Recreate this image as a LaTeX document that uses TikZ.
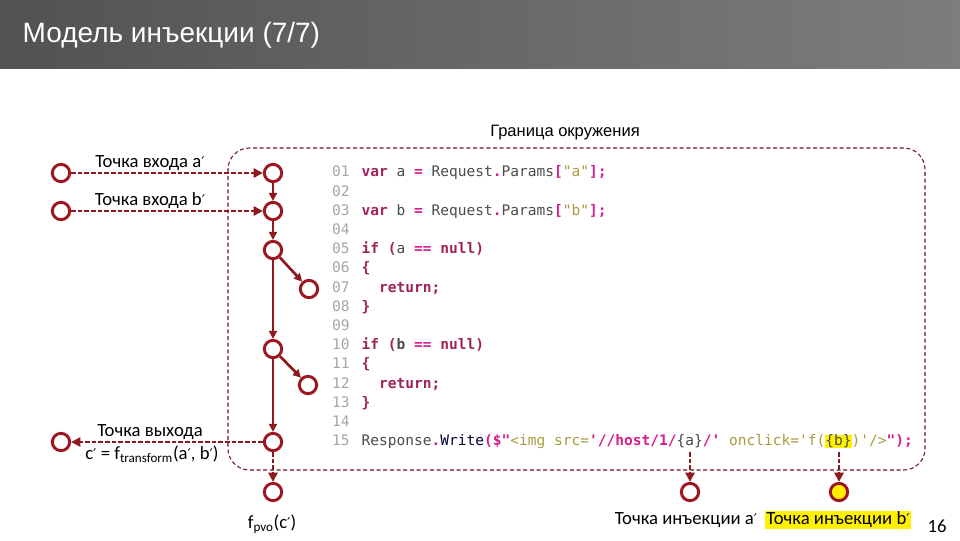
\documentclass[tikz,border=0pt]{standalone}
\usepackage{xcolor}
\usepackage{fontspec}
\setmainfont{Carlito}
\newfontfamily\arialfont{Liberation Sans}
\newfontfamily\symfont{DejaVu Sans}
\setmonofont{DejaVu Sans Mono}
\usepackage{tikz}
\usetikzlibrary{arrows.meta, positioning, calc}

\definecolor{ptred}{RGB}{158,22,32}
\definecolor{edgered}{RGB}{140,26,30}
\definecolor{borderred}{RGB}{115,20,30}
\definecolor{kwcol}{RGB}{160,35,90}
\definecolor{opcol}{RGB}{215,30,140}
\definecolor{idcol}{RGB}{75,75,75}
\definecolor{strcol}{RGB}{165,155,60}
\definecolor{numcol}{RGB}{165,165,165}
\definecolor{hlyellow}{RGB}{255,240,0}

% code colouring
\newcommand{\kw}[1]{\textcolor{kwcol}{\bfseries #1}}
\newcommand{\op}[1]{\textcolor{opcol}{\bfseries #1}}
\newcommand{\str}[1]{\textcolor{strcol}{#1}}
% prime
\newcommand{\prm}{{\symfont\fontsize{11}{13}\selectfont ′}}

\begin{document}
\begin{tikzpicture}[
  x=0.75pt, y=-0.75pt,
  pt/.style={circle, draw=ptred, line width=2.2pt, fill=white, minimum size=13pt, inner sep=0pt},
  flow/.style={draw=edgered, line width=2pt, -{Triangle[length=6pt,width=6pt]}},
  dflow/.style={draw=edgered, line width=1.6pt, dash pattern=on 3.5pt off 1.5pt, -{Triangle[length=7pt,width=7pt]}},
  lbl/.style={font=\fontsize{14}{16}\selectfont, inner sep=1pt},
  lnum/.style={anchor=east, font=\ttfamily\fontsize{10.9}{13}\selectfont, text=numcol, inner sep=0pt, text height=8pt, text depth=2.5pt},
  code/.style={anchor=west, font=\ttfamily\fontsize{10.9}{13}\selectfont, text=idcol, inner sep=0pt, text height=8pt, text depth=2.5pt}
]
  \useasboundingbox (0,0) rectangle (960,540);

  % header
  \shade[left color={rgb,255:red,82;green,82;blue,82}, right color={rgb,255:red,125;green,125;blue,125}] (0,0) rectangle (960,68);
  \node[anchor=west, text=white, font=\arialfont\fontsize{21}{24}\selectfont] (title) at (18,35) {Модель инъекции (7/7)};

  % boundary
  \draw[borderred, line width=0.8pt, dash pattern=on 3pt off 2pt, rounded corners=16] (228,148) rectangle (925,470);
  \node[font=\arialfont\fontsize{12.4}{14}\selectfont] (border) at (565,133) {Граница окружения};

  % code
  \foreach \n [count=\i] in {01,02,03,04,05,06,07,08,09,10,11,12,13,14,15}
    \node[lnum] (ln\n) at (350,154+19.2*\i) {\n};
  \node[code, right=8.5pt of ln01] (c01) {\kw{var} a \op{=} Request\op{.}Params\op{[}\str{"a"}\op{];}};
  \node[code, right=8.5pt of ln03] (c03) {\kw{var} b \op{=} Request\op{.}Params\op{[}\str{"b"}\op{];}};
  \node[code, right=8.5pt of ln05] (c05) {\kw{if} \kw{(}a \op{==} \kw{null)}};
  \node[code, right=8.5pt of ln06] (c06) {\kw{\{}};
  \node[code, right=8.5pt of ln07] (c07) {\ \ \kw{return;}};
  \node[code, right=8.5pt of ln08] (c08) {\kw{\}}};
  \node[code, right=8.5pt of ln10] (c10) {\kw{if} \kw{(}\textbf{b} \op{==} \kw{null)}};
  \node[code, right=8.5pt of ln11] (c11) {\kw{\{}};
  \node[code, right=8.5pt of ln12] (c12) {\ \ \kw{return;}};
  \node[code, right=8.5pt of ln13] (c13) {\kw{\}}};
  \node[code, right=8.5pt of ln15] (c15) {Response\op{.}\textcolor{black!80!blue}{Write}\op{(\$"}\str{<img}\ \str{src=}\op{'//host/1/}\{a\}\op{/'}\ \str{onclick='f(}{\setlength\fboxsep{0pt}\colorbox{hlyellow}{\{b\}}}\str{)'/>}\op{");}};

  % entry / exit points
  \node[pt] (ina) at (61,173) {};
  \node[pt] (inb) at (61,211) {};
  \node[pt] (outc) at (61,442) {};

  % flow graph
  \node[pt] (n1) at (273,173) {};
  \node[pt] (n2) at (273,211) {};
  \node[pt] (n3) at (273,250) {};
  \node[pt] (r1) at (309,289) {};
  \node[pt] (n4) at (273,349) {};
  \node[pt] (r2) at (308,385) {};
  \node[pt] (n5) at (273,442) {};
  \node[pt] (n6) at (273,492) {};

  \draw[flow] (n1) -- (n2);
  \draw[flow] (n2) -- (n3);
  \draw[flow] (n3) -- (r1);
  \draw[flow] (n3) -- (n4);
  \draw[flow] (n4) -- (r2);
  \draw[flow] (n4) -- (n5);
  \draw[dflow] (n5) -- (n6);

  \draw[dflow] (ina) -- (n1);
  \draw[dflow] (inb) -- (n2);
  \draw[dflow] (n5) -- (outc);
  \node[lbl] (lbla) at (150,163) {Точка входа a\prm};
  \node[lbl] (lblb) at (150,201) {Точка входа b\prm};
  \node[lbl] (lblout) at (150,432) {Точка выхода};
  \node[lbl] (lbltr) at (152,454) {c\prm{} = f\textsubscript{transform}(a\prm, b\prm)};
  \node[lbl] (lblpvo) at (272,524) {f\textsubscript{pvo}(c\prm)};

  % injection points
  \coordinate (srca) at (690,452);
  \coordinate (srcb) at (839,452);
  \node[pt] (inja) at (690,492) {};
  \node[pt, fill=hlyellow] (injb) at (839,492) {};
  \draw[dflow] (srca) -- (inja);
  \draw[dflow] (srcb) -- (injb);
  \node[lbl] (lblia) at (686,520) {Точка инъекции a\prm};
  \node[lbl, fill=hlyellow] (lblib) at (838,520) {Точка инъекции b\prm};

  \node[font=\fontsize{14}{16}\selectfont] (page) at (937,526) {16};
\end{tikzpicture}
\end{document}
